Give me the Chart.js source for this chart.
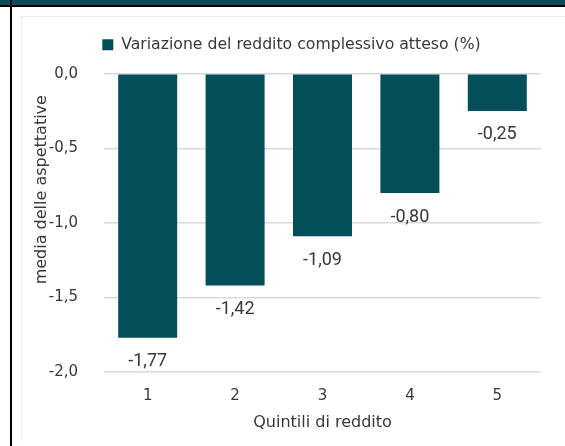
<!DOCTYPE html>
<html>
<head>
<meta charset="utf-8">
<script src="https://cdn.jsdelivr.net/npm/chart.js@4"></script>
<style>
  body { margin: 0; background: #fff; width: 565px; height: 446px; overflow: hidden; position: relative; }
  #band { position: absolute; left: 0; top: 0; width: 565px; height: 5px; background: #0c4b58; }
  #hline { position: absolute; left: 0; top: 5px; width: 565px; height: 2px; background: #000; }
  #vline { position: absolute; left: 10px; top: 0; width: 2px; height: 446px; background: #000; }
  #box { position: absolute; left: 21px; top: 16px; width: 544px; height: 424px; border-left: 1px solid #ececec; border-top: 1px solid #ececec; }
  #wrap { position: absolute; left: 22px; top: 17px; width: 543px; height: 423px; }
</style>
</head>
<body>
<div id="band"></div>
<div id="hline"></div>
<div id="vline"></div>
<div id="box"></div>
<div id="wrap"><canvas id="myChart"></canvas></div>
<script>
window.onload = function () {
    const quintili = ['1', '2', '3', '4', '5'];
    const variazione = [-1.77, -1.42, -1.09, -0.80, -0.25];
    const serieNome = 'Variazione del reddito complessivo atteso (%)';
    const colore = '#024f59';
    const fontTesto = "'DejaVu Sans', sans-serif";
    const grigio = '#383838';

    const virgola = v => v.toFixed(1).replace('.', ',');

    // spazio sotto la legenda e spostamento a destra
    const legendaSpazio = {
        id: 'legendaSpazio',
        beforeInit(chart) {
            const fitOrig = chart.legend.fit;
            chart.legend.fit = function () {
                fitOrig.call(this);
                this.height += 11;
            };
        },
        afterLayout(chart) {
            chart.legend.left += 10;
            chart.legend.right += 10;
        }
    };

    // etichette sotto le barre + titolo asse y
    const etichette = {
        id: 'etichette',
        afterDatasetsDraw(chart) {
            const ctx = chart.ctx;
            const meta = chart.getDatasetMeta(0);
            ctx.save();
            ctx.font = "18px Roboto";
            ctx.fillStyle = grigio;
            ctx.textAlign = 'center';
            ctx.textBaseline = 'middle';
            meta.data.forEach((bar, i) => {
                ctx.fillText(variazione[i].toFixed(2).replace('.', ','), bar.x, bar.y + 24);
            });
            ctx.translate(20, chart.chartArea.top + 116);
            ctx.rotate(-Math.PI / 2);
            ctx.font = "16px " + fontTesto;
            ctx.fillText('media delle aspettative', 0, 0);
            ctx.restore();
        }
    };

    const options = {
        type: 'bar',
        data: {
            labels: quintili,
            datasets: [{
                label: serieNome,
                data: variazione,
                backgroundColor: colore,
                categoryPercentage: 0.675,
                barPercentage: 1
            }]
        },
        options: {
            responsive: true,
            maintainAspectRatio: false,
            animation: false,
            layout: { padding: { left: 0, right: 24, top: 10, bottom: 0 } },
            plugins: {
                legend: {
                    labels: {
                        boxWidth: 11,
                        boxHeight: 11,
                        color: grigio,
                        font: { family: fontTesto, size: 15.7 },
                        padding: 10
                    }
                },
                tooltip: { enabled: false }
            },
            scales: {
                x: {
                    grid: { display: false },
                    border: { display: false },
                    ticks: { color: grigio, font: { family: fontTesto, size: 15 }, padding: 7 },
                    title: { display: true, text: 'Quintili di reddito', color: grigio, font: { family: fontTesto, size: 16 }, padding: { top: 0, bottom: 8 } },
                    afterFit(scale) { scale.height = 68; }
                },
                y: {
                    min: -2,
                    max: 0,
                    ticks: { stepSize: 0.5, color: grigio, font: { family: fontTesto, size: 15 }, padding: 26, callback: v => virgola(v) },
                    grid: { color: '#d9d9d9', lineWidth: 1.5, drawTicks: false },
                    border: { display: false },
                    afterFit(scale) { scale.width = 82; }
                }
            }
        },
        plugins: [legendaSpazio, etichette]
    };
    new Chart(document.getElementById('myChart'), options);
};
</script>
</body>
</html>
